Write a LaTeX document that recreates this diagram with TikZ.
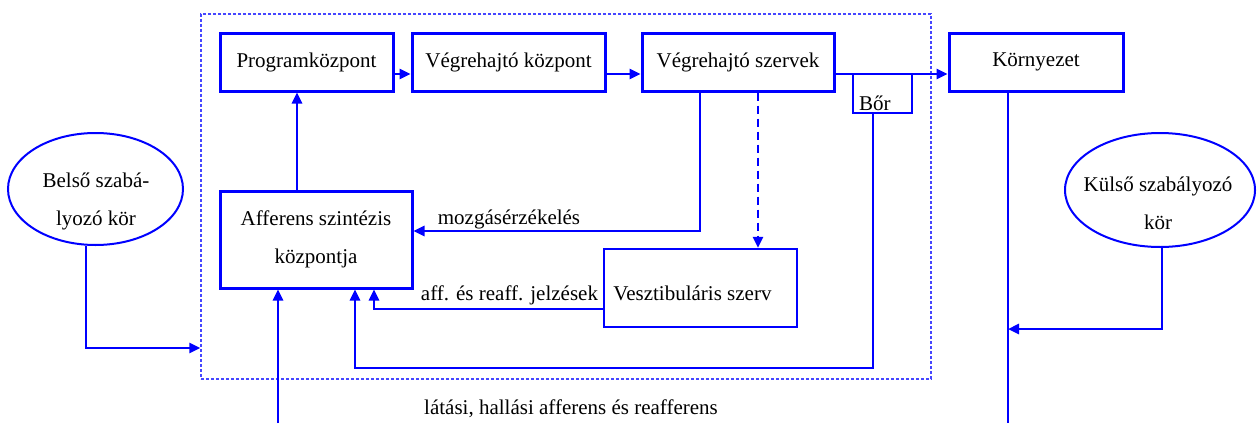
\documentclass[tikz,border=0pt]{standalone}
\usepackage{fontspec}
\setmainfont{Liberation Serif}
\usetikzlibrary{arrows.meta,calc,shapes.geometric}
\definecolor{bl}{RGB}{0,0,255}
\definecolor{dbl}{RGB}{70,70,255}
\begin{document}
\begin{tikzpicture}[x=1pt,y=-1pt,
  txt/.style={font=\fontsize{21}{38}\selectfont, text=black},
  blk/.style={txt, draw=bl, line width=3pt, minimum height=58pt, inner sep=0pt},
  conn/.style={draw=bl, line width=2.5pt},
  arr/.style={conn, -{Triangle[length=11pt,width=10pt]}},
  oval/.style={ellipse, draw=bl, line width=2pt, inner sep=0pt}]
\useasboundingbox (0,0) rectangle (1257,423);
% frame
\node[draw=dbl, line width=1.3pt, dash pattern=on 3pt off 2pt, minimum width=730pt, minimum height=365pt, inner sep=0pt] (frame) at (566,196.5) {};
% boxes
\node[blk, minimum width=173pt] (prog) at (306.5,62) {Programközpont};
\node[blk, minimum width=193pt] (vegk) at (508.5,62) {Végrehajtó központ};
\node[blk, minimum width=192pt] (vegsz) at (738,62) {Végrehajtó szervek};
\node[blk, minimum width=174pt] (korny) at (1036,62) {Környezet};
\node[draw=bl, line width=2pt, minimum width=59pt, minimum height=39pt, inner sep=0pt] (bor) at (882.5,93.5) {};
\node[txt, anchor=base west, inner sep=0pt] (borl) at (859,110) {Bőr};
\node[blk, minimum width=192pt, minimum height=97pt, align=center] (aff) at (316,239.5) {Afferens szintézis\\központja};
\node[blk, line width=2.5pt, minimum width=193pt, minimum height=78pt] (vest) at (700.5,288) {};
\node[txt, anchor=base, inner sep=0pt] (vestl) at (692.5,300) {Vesztibuláris szerv};
% ellipses
\node[oval, minimum width=175pt, minimum height=112pt] (bel) at (95.5,189) {};
\node[txt, align=center] (bell) at (96,201) {Belső szabá-\\lyozó kör};
\node[oval, minimum width=190pt, minimum height=114pt] (kul) at (1160,190) {};
\node[txt, align=center] (kull) at (1158,203) {Külső szabályozó\\kör};
% labels
\node[txt, anchor=base, inner sep=0pt] (lm) at (509,224) {mozgásérzékelés};
\node[txt, anchor=base, inner sep=0pt] (la) at (509.5,300) {aff. és reaff. jelzések};
\node[txt, anchor=base, inner sep=0pt] (ll) at (571,414) {látási, hallási afferens és reafferens};
% coordinates
\coordinate (row) at (0,74);
\coordinate (c297) at (297,0);
\coordinate (m) at (700,231);
\coordinate (d) at (758,0);
\coordinate (r) at (374,309);
\coordinate (b) at (873,368);
\coordinate (b2) at (355,368);
\coordinate (l) at (278,423);
\coordinate (bi) at (86,348);
\coordinate (k) at (1162,329);
\coordinate (e) at (1008,423);
% connectors
\draw[arr] (prog.east |- row) -- (vegk.west |- row);
\draw[arr] (vegk.east |- row) -- (vegsz.west |- row);
\draw[arr] (vegsz.east |- row) -- (korny.west |- row);
\draw[arr] (aff.north -| c297) -- (prog.south -| c297);
\draw[arr] (vegsz.south -| m) -- (m) -- (aff.east |- m);
\draw[arr, dash pattern=on 8pt off 5pt] (vegsz.south -| d) -- (vest.north -| d);
\draw[arr] (vest.west |- r) -- (r) -- (aff.south -| r);
\draw[arr] (bor.south -| b) -- (b) -- (b2) -- (aff.south -| b2);
\draw[arr] (l) -- (aff.south -| l);
\draw[arr] (bel.south -| bi) -- (bi) -- (frame.west |- bi);
\draw[conn] (korny.south -| e) -- (e);
\draw[arr] (kul.south -| k) -- (k) -- (k -| e);
\end{tikzpicture}
\end{document}
